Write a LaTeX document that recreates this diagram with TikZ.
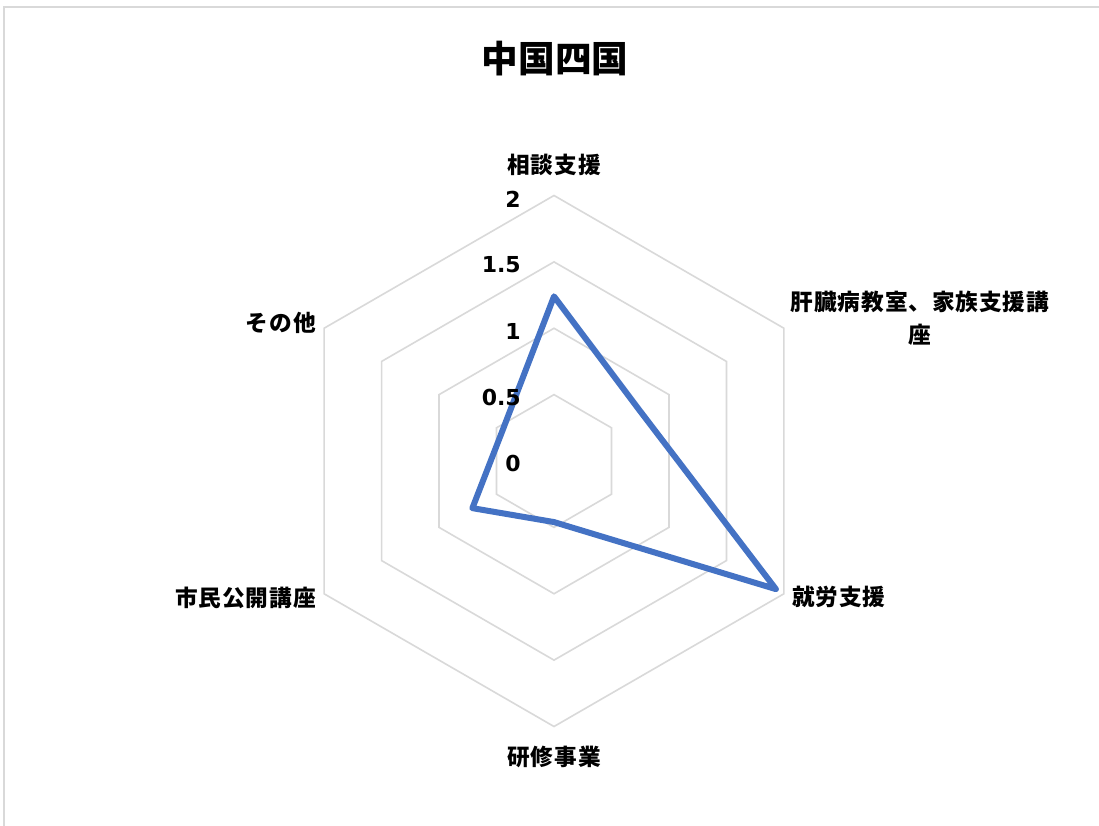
\documentclass[tikz,border=0pt]{standalone}
\usepackage{fontspec}
\usetikzlibrary{calc}
\newfontfamily\jplab[LetterSpace=4]{Noto Sans CJK JP}
\newfontfamily\jptitle{Noto Sans CJK JP}
\newfontfamily\numfont{DejaVu Sans}
\definecolor{gridgray}{HTML}{D9D9D9}
\definecolor{serblue}{HTML}{4472C4}
\begin{document}
\begin{tikzpicture}[x=0.75pt,y=-0.75pt,
  grid/.style={draw=gridgray,line width=1.2pt,line join=miter},
  series/.style={draw=serblue,line width=4.5pt,line join=round},
  axlab/.style={font=\jplab\bfseries\fontsize{17}{19}\selectfont,inner sep=0pt,text=black},
  numlab/.style={font=\numfont\bfseries\fontsize{16.5}{18}\selectfont,inner sep=0pt,anchor=east},
  ttl/.style={font=\jptitle\bfseries\fontsize{27.5}{30}\selectfont,inner sep=0pt}]
\useasboundingbox (0,0) rectangle (1099,825);
\fill[white] (0,0) rectangle (1099,825);
% chart frame (only top and left edges visible)
\draw[gridgray,line width=1.5pt] (4,830) -- (4,7) -- (1105,7);
\coordinate (O) at (554,461);
\def\uu{132.75}
% rings
\foreach \v in {0.5,1,1.5,2}{
  \draw[grid] ($(O)+(-90:\v*\uu)$) -- ($(O)+(-30:\v*\uu)$) -- ($(O)+(30:\v*\uu)$)
   -- ($(O)+(90:\v*\uu)$) -- ($(O)+(150:\v*\uu)$) -- ($(O)+(210:\v*\uu)$) -- cycle;
}
% data points
\coordinate (p1) at ($(O)+(-90:1.24*\uu)$);
\coordinate (p2) at ($(O)+(-30:0.75*\uu)$);
\coordinate (p3) at ($(O)+(30:1.93*\uu)$);
\coordinate (p4) at ($(O)+(90:0.46*\uu)$);
\coordinate (p5) at ($(O)+(150:0.71*\uu)$);
\coordinate (p6) at ($(O)+(210:0.45*\uu)$);
\draw[series] (p1) -- (p2) -- (p3) -- (p4) -- (p5) -- (p6) -- cycle;
% scale numbers
\node[numlab] (n0) at (521,463) {0};
\node[numlab] (n1) at (521,397) {0.5};
\node[numlab] (n2) at (521,331) {1};
\node[numlab] (n3) at (521,265) {1.5};
\node[numlab] (n4) at (521,199) {2};
% title
\node[ttl] (title) at (555,59) {中国四国};
% axis labels
\node[axlab] (l1) at (554,165) {相談支援};
\node[axlab,align=center,font=\jplab\bfseries\fontsize{17}{24.75}\selectfont] (l2) at (920,318) {肝臓病教室、家族支援講\\座};
\node[axlab,anchor=west] (l3) at (792,597) {就労支援};
\node[axlab] (l4) at (554,757) {研修事業};
\node[axlab,anchor=east] (l5) at (316,598) {市民公開講座};
\node[axlab,anchor=east] (l6) at (316,323) {その他};
\end{tikzpicture}
\end{document}
